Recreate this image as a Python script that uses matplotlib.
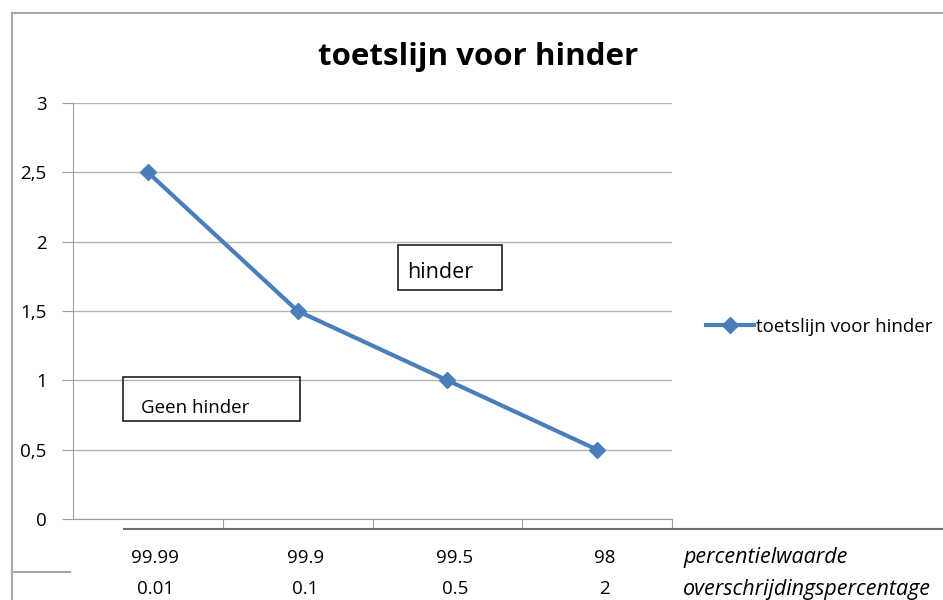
import matplotlib.pyplot as plt
import matplotlib.transforms as mtransforms
from matplotlib.patches import Rectangle
from matplotlib.lines import Line2D

percentiel = ["99.99", "99.9", "99.5", "98"]
overschrijding = ["0.01", "0.1", "0.5", "2"]
toetslijn = [2.5, 1.5, 1.0, 0.5]
y_ticks = [0, 0.5, 1, 1.5, 2, 2.5, 3]
y_labels = ["0", "0,5", "1", "1,5", "2", "2,5", "3"]

plt.rcParams['font.family'] = ['Open Sans', 'DejaVu Sans']
W, H = 943, 600
fig = plt.figure(figsize=(W / 100, H / 100), dpi=100)

def fx(px):
    return px / W

def fy(py):
    return 1 - py / H

ax = fig.add_axes([fx(73), fy(519), fx(672) - fx(73), fy(103) - fy(519)])
x = list(range(len(toetslijn)))
ax.plot(x, toetslijn, color='#4a7ebb', linewidth=3, marker='D', markersize=8,
        label='toetslijn voor hinder')
ax.set_xlim(-0.5, 3.5)
ax.set_ylim(0, 3)
ax.set_yticks(y_ticks)
ax.set_yticklabels(y_labels)
ax.yaxis.grid(True, color='#b4b4b4', linewidth=1)
ax.set_axisbelow(True)
ax.tick_params(axis='y', length=8, color='#a0a0a0', pad=11, labelsize=13.5)
for s in ['top', 'right']:
    ax.spines[s].set_visible(False)
ax.spines['left'].set_color('#a0a0a0')
ax.spines['bottom'].set_color('#a0a0a0')
ax.set_xticks([0.5, 1.5, 2.5, 3.5])
ax.set_xticklabels([])
ax.tick_params(axis='x', length=7, color='#a0a0a0', direction='out')

# category labels in two rows (table under the chart)
trans = mtransforms.blended_transform_factory(ax.transData, fig.transFigure)
for i in x:
    ax.text(i + 0.05, fy(558), percentiel[i], transform=trans,
            ha='center', va='center', fontsize=13.5)
    ax.text(i + 0.05, fy(589), overschrijding[i], transform=trans,
            ha='center', va='center', fontsize=13.5)
fig.text(fx(683), fy(558), 'percentielwaarde', style='italic', ha='left', va='center', fontsize=15.5)
fig.text(fx(683), fy(589), 'overschrijdingspercentage', style='italic', ha='left', va='center', fontsize=15.5)

# title
fig.text(fx(478), fy(57), 'toetslijn voor hinder', ha='center', va='center',
         fontsize=22.5, fontweight='bold')

# frame lines
fig.add_artist(Line2D([fx(12), 1], [fy(13), fy(13)], color='#a8a8a8', linewidth=1.5))
fig.add_artist(Line2D([fx(12), fx(12)], [fy(13), 0], color='#a8a8a8', linewidth=1.5))
fig.add_artist(Line2D([fx(12), fx(70)], [fy(572), fy(572)], color='#a8a8a8', linewidth=1.5))
fig.add_artist(Line2D([fx(124), 1], [fy(529), fy(529)], color='#707070', linewidth=1.5))

# text boxes
fig.add_artist(Rectangle((fx(398), fy(290)), fx(502) - fx(398), fy(245) - fy(290),
                         fill=False, edgecolor='#202020', linewidth=1.2))
fig.text(fx(407), fy(272), 'hinder', ha='left', va='center', fontsize=15.5)
fig.add_artist(Rectangle((fx(123), fy(421)), fx(300) - fx(123), fy(377) - fy(421),
                         fill=False, edgecolor='#202020', linewidth=1.2))
fig.text(fx(141), fy(408), 'Geen hinder', ha='left', va='center', fontsize=13.5)

fig.legend(loc='center left', bbox_to_anchor=(fx(698), fy(327)), frameon=False,
           fontsize=13.5, handlelength=2.6, handletextpad=0.1, borderaxespad=0)

fig.savefig('out.png', dpi=100)
